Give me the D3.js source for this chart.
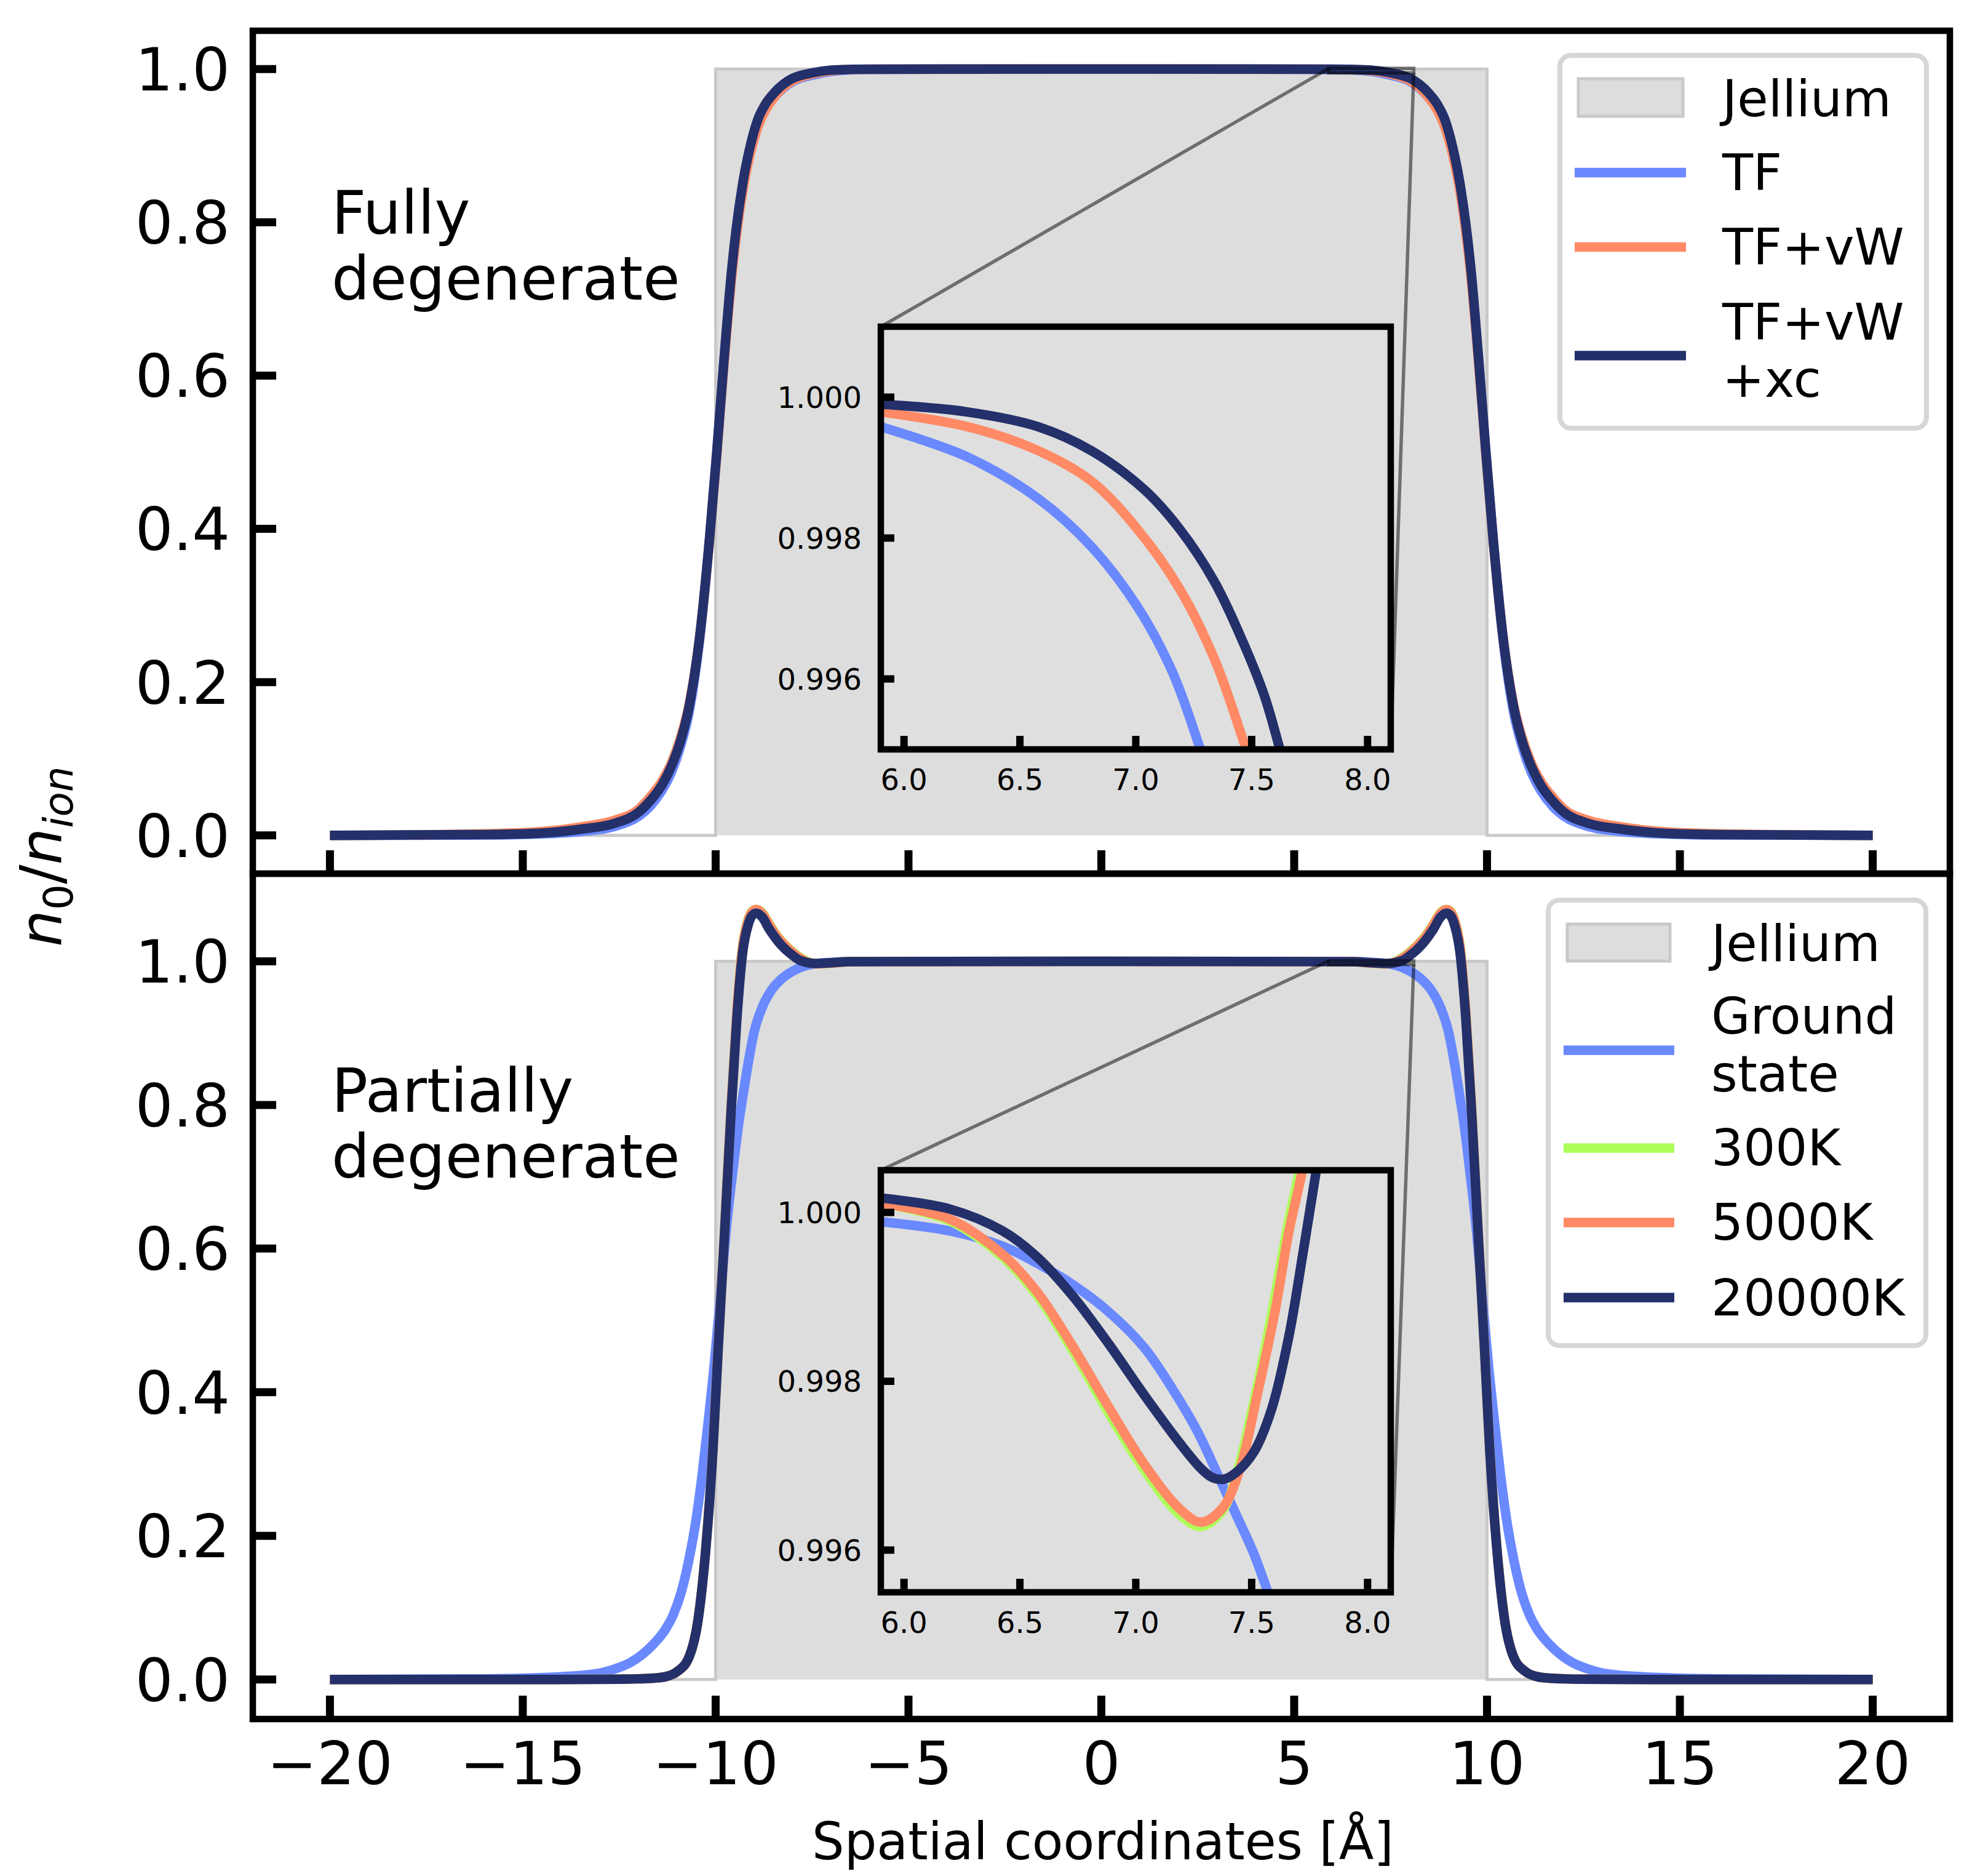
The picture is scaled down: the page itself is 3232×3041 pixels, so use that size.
<!DOCTYPE html>
<html><head><meta charset="utf-8">
<script src="https://cdn.jsdelivr.net/npm/d3@7"></script>
<style>html,body{margin:0;padding:0;background:#fff;} svg{display:block;} text{font-family:"DejaVu Sans",sans-serif;fill:#000;}</style>
</head><body><div id="chart"></div>
<script>
// ---------------- data ----------------
const xTicksMain = [-20, -15, -10, -5, 0, 5, 10, 15, 20];
const yTicksMain = [0, 0.2, 0.4, 0.6, 0.8, 1.0];
const xTicksInset = [6.0, 6.5, 7.0, 7.5, 8.0];
const yTicksInset = [0.996, 0.998, 1.000];

const jelliumX = [-20, -10, -10, 10, 10, 20];
const jelliumY = [0, 0, 1, 1, 0, 0];

// top panel (fully degenerate)
const topX = [-20,-16,-14.5,-13.5,-12.6,-12.0,-11.7,-11.4,-11.15,-10.9,-10.7,-10.4,-10.15,-9.97,-9.8,-9.58,-9.3,-9.1,-8.9,-8.7,-8.5,-8.25,-8.0,-7.5,-7.0,-6.5,-6.0,0,
              6.0,6.5,7.0,7.5,8.0,8.25,8.5,8.7,8.9,9.1,9.3,9.58,9.8,9.97,10.15,10.4,10.7,10.9,11.15,11.4,11.7,12.0,12.6,13.5,14.5,16,20];
const topTFvWxc = [0,0.001,0.003,0.008,0.016,0.03,0.045,0.065,0.09,0.125,0.165,0.265,0.392,0.5,0.61,0.74,0.85,0.9,0.935,0.955,0.968,0.98,0.988,0.995,0.9987,0.9996,0.9999,1,
                   0.9999,0.9996,0.9987,0.995,0.988,0.98,0.968,0.955,0.935,0.9,0.85,0.74,0.61,0.5,0.392,0.265,0.165,0.125,0.09,0.065,0.045,0.03,0.016,0.008,0.003,0.001,0];
const topTFvW = [0,0.002,0.005,0.011,0.02,0.034,0.05,0.07,0.094,0.129,0.168,0.265,0.39,0.497,0.605,0.73,0.84,0.89,0.925,0.947,0.962,0.976,0.985,0.9935,0.998,0.9994,0.9998,1,
                 0.9998,0.9994,0.998,0.9935,0.985,0.976,0.962,0.947,0.925,0.89,0.84,0.73,0.605,0.497,0.39,0.265,0.168,0.129,0.094,0.07,0.05,0.034,0.02,0.011,0.005,0.002,0];
const topTF = [0,0.0005,0.002,0.005,0.012,0.025,0.038,0.058,0.082,0.118,0.158,0.262,0.392,0.5,0.608,0.735,0.843,0.893,0.927,0.948,0.962,0.975,0.984,0.992,0.997,0.9991,0.9996,1,
               0.9996,0.9991,0.997,0.992,0.984,0.975,0.962,0.948,0.927,0.893,0.843,0.735,0.608,0.5,0.392,0.262,0.158,0.118,0.082,0.058,0.038,0.025,0.012,0.005,0.002,0.0005,0];

// bottom panel (partially degenerate)
const groundX = [-20,-16,-14,-13,-12.6,-12.2,-11.9,-11.6,-11.3,-11.1,-10.9,-10.7,-10.5,-10.35,-10.2,-10.05,-9.85,-9.7,-9.55,-9.4,-9.3,-9.15,-9.0,-8.8,-8.55,-8.3,-7.9,-7.5,-7.0,-6.5,0,
                 6.5,7.0,7.5,7.9,8.3,8.55,8.8,9.0,9.15,9.3,9.4,9.55,9.7,9.85,10.05,10.2,10.35,10.5,10.7,10.9,11.1,11.3,11.6,11.9,12.2,12.6,13,14,16,20];
const groundY = [0,0.001,0.004,0.009,0.015,0.024,0.035,0.05,0.07,0.09,0.12,0.165,0.225,0.285,0.355,0.43,0.55,0.64,0.71,0.775,0.81,0.86,0.902,0.935,0.96,0.975,0.989,0.996,0.9985,0.9995,1,
                 0.9995,0.9985,0.996,0.989,0.975,0.96,0.935,0.902,0.86,0.81,0.775,0.71,0.64,0.55,0.43,0.355,0.285,0.225,0.165,0.12,0.09,0.07,0.05,0.035,0.024,0.015,0.009,0.004,0.001,0];
const tempX = [-20,-16,-12.5,-12,-11.6,-11.3,-11.0,-10.7,-10.45,-10.25,-10.07,-9.93,-9.78,-9.6,-9.45,-9.3,-9.15,-9.05,-8.95,-8.8,-8.6,-8.4,-8.2,-8.0,-7.8,-7.4,-7.0,-6.5,0,
               6.5,7.0,7.4,7.8,8.0,8.2,8.4,8.6,8.8,8.95,9.05,9.15,9.3,9.45,9.6,9.78,9.93,10.07,10.25,10.45,10.7,11.0,11.3,11.6,12,12.5,16,20];
const t20000K = [0,0,0.0005,0.001,0.002,0.004,0.011,0.03,0.085,0.185,0.32,0.465,0.61,0.79,0.92,1.012,1.052,1.064,1.067,1.062,1.044,1.029,1.017,1.008,1.001,0.9969,0.998,0.9995,1,
                 0.9995,0.998,0.9969,1.001,1.008,1.017,1.029,1.044,1.062,1.067,1.064,1.052,1.012,0.92,0.79,0.61,0.465,0.32,0.185,0.085,0.03,0.011,0.004,0.002,0.001,0.0005,0,0];
const t5000K  = [0,0,0.0005,0.001,0.002,0.004,0.011,0.03,0.086,0.186,0.322,0.467,0.613,0.795,0.928,1.02,1.058,1.069,1.072,1.067,1.05,1.034,1.022,1.012,1.004,0.9966,0.9975,0.9995,1,
                 0.9995,0.9975,0.9966,1.004,1.012,1.022,1.034,1.05,1.067,1.072,1.069,1.058,1.02,0.928,0.795,0.613,0.467,0.322,0.186,0.086,0.03,0.011,0.004,0.002,0.001,0.0005,0,0];
const t300K   = [0,0,0.0005,0.001,0.002,0.004,0.011,0.03,0.086,0.186,0.322,0.467,0.613,0.795,0.929,1.021,1.059,1.07,1.072,1.068,1.051,1.035,1.023,1.013,1.005,0.9965,0.9973,0.9995,1,
                 0.9995,0.9973,0.9965,1.005,1.013,1.023,1.035,1.051,1.068,1.072,1.07,1.059,1.021,0.929,0.795,0.613,0.467,0.322,0.186,0.086,0.03,0.011,0.004,0.002,0.001,0.0005,0,0];

// insets (zoomed values)
const insTopTFX     = [5.9,6.274,6.579,6.808,7.006,7.158,7.28,7.35];
const insTopTFY     = [0.99958,0.99915,0.99856,0.99788,0.99703,0.9961,0.99499,0.9943];
const insTopTFvWX   = [5.9,6.274,6.579,6.808,7.006,7.189,7.341,7.478,7.55];
const insTopTFvWY   = [0.99979,0.99958,0.99924,0.99881,0.99813,0.99728,0.99627,0.99499,0.99432];
const insTopXcX     = [5.9,6.274,6.579,6.808,7.036,7.189,7.341,7.463,7.555,7.623,7.7];
const insTopXcY     = [0.9999,0.99979,0.99958,0.99924,0.99869,0.99813,0.99737,0.99652,0.99576,0.99499,0.99412];

const insBotGroundX = [5.9,6.198,6.426,6.579,6.731,6.884,7.036,7.158,7.265,7.356,7.433,7.509,7.57,7.62];
const insBotGroundY = [0.99989,0.99978,0.9996,0.99939,0.99914,0.99882,0.9984,0.99791,0.99741,0.99688,0.99642,0.99596,0.9955,0.9951];
const insBot300X    = [5.9,6.198,6.426,6.579,6.731,6.884,7.036,7.189,7.28,7.372,7.44,7.516,7.588,7.651,7.702,7.75];
const insBot300Y    = [1.00011,0.9999,0.99947,0.999,0.99835,0.99762,0.99695,0.99642,0.99628,0.99646,0.99695,0.99784,0.99882,0.99978,1.00045,1.0012];
const insBot5000X   = [5.9,6.198,6.426,6.579,6.731,6.884,7.036,7.189,7.28,7.372,7.448,7.524,7.6,7.661,7.715,7.76];
const insBot5000Y   = [1.00011,0.99992,0.9995,0.99904,0.9984,0.99769,0.99702,0.99649,0.99633,0.99649,0.99695,0.99784,0.99882,0.99978,1.00045,1.0012];
const insBot20000X  = [5.9,6.198,6.426,6.579,6.731,6.884,7.036,7.189,7.28,7.33,7.38,7.433,7.509,7.585,7.661,7.722,7.776,7.82];
const insBot20000Y  = [1.00017,1.00004,0.99978,0.99946,0.999,0.99844,0.99784,0.99727,0.99697,0.99686,0.99684,0.99692,0.99716,0.99766,0.99854,0.99953,1.00045,1.0012];

// ---------------- styles ----------------
const C = {blue:"#6a89ff", orange:"#ff8a65", navy:"#24306a", green:"#aeff5a", jel:"#dddddd", jelEdge:"#c9c9c9"};
const LW = 15.5;
const FS_TICK = 97, FS_LABEL = 98, FS_LEG = 82, FS_AXIS = 83, FS_INS = 48;

const W = 3232, H = 3041;
const svg = d3.select("#chart").append("svg").attr("width", W).attr("height", H);
svg.append("rect").attr("width", W).attr("height", H).attr("fill", "#fff");

const L = 411, R = 3170;
const x = d3.scaleLinear().domain([-22, 22]).range([L, R]);

const panels = [
  {top: 50, bottom: 1420, ydom: [-0.05, 1.05],
   series: [[topX, topTF, C.blue], [topX, topTFvW, C.orange], [topX, topTFvWxc, C.navy]],
   inset: {top: 531, bottom: 1218, ydom: [0.995, 1.001],
     series: [[insTopTFX, insTopTFY, C.blue], [insTopTFvWX, insTopTFvWY, C.orange], [insTopXcX, insTopXcY, C.navy]]},
   label: ["Fully", "degenerate"], labelY: 380,
   legend: {x: 2536, y: 90, w: 596, h: 606, patch: [2566, 128, 170, 61], tx: 2800, lx: [2560, 2741],
     entries: [{lines: ["Jellium"], base: [189]},
               {lines: ["TF"], base: [309], ly: 280.5, c: C.blue},
               {lines: ["TF+vW"], base: [430], ly: 401.5, c: C.orange},
               {lines: ["TF+vW", "+xc"], base: [552, 645], ly: 578, c: C.navy}]}},
  {top: 1420, bottom: 2794, ydom: [-0.055, 1.122],
   series: [[groundX, groundY, C.blue], [tempX, t300K, C.green], [tempX, t5000K, C.orange], [tempX, t20000K, C.navy]],
   inset: {top: 1902, bottom: 2588, ydom: [0.9955, 1.0005],
     series: [[insBotGroundX, insBotGroundY, C.blue], [insBot300X, insBot300Y, C.green], [insBot5000X, insBot5000Y, C.orange], [insBot20000X, insBot20000Y, C.navy]]},
   label: ["Partially", "degenerate"], labelY: 1807,
   legend: {x: 2517, y: 1463, w: 614, h: 724, patch: [2548, 1502, 167, 60], tx: 2782, lx: [2542, 2722],
     entries: [{lines: ["Jellium"], base: [1562]},
               {lines: ["Ground", "state"], base: [1680, 1774], ly: 1707, c: C.blue},
               {lines: ["300K"], base: [1894], ly: 1866, c: C.green},
               {lines: ["5000K"], base: [2015], ly: 1987, c: C.orange},
               {lines: ["20000K"], base: [2138], ly: 2109, c: C.navy}]}}
];

const TICK_W = 13, TICK_L = 38, SPINE = 10.5;
const INS_L = 1432, INS_R = 2261;
const xi = d3.scaleLinear().domain([5.9, 8.1]).range([INS_L, INS_R]);

panels.forEach((p, pi) => {
  const y = d3.scaleLinear().domain(p.ydom).range([p.bottom, p.top]);
  const g = svg.append("g");
  const clipId = "clip" + pi;
  svg.append("defs").append("clipPath").attr("id", clipId)
    .append("rect").attr("x", L).attr("y", p.top).attr("width", R - L).attr("height", p.bottom - p.top);
  const plot = g.append("g").attr("clip-path", `url(#${clipId})`);

  // jellium
  plot.append("path")
    .attr("d", d3.line().x(d => x(d[0])).y(d => y(d[1]))(d3.zip(jelliumX, jelliumY)))
    .attr("fill", C.jel).attr("stroke", C.jelEdge).attr("stroke-width", 5).attr("stroke-linejoin", "miter");

  // curves
  const line = d3.line().x(d => x(d[0])).y(d => y(d[1])).curve(d3.curveMonotoneX);
  p.series.forEach(([xs, ys, c]) => {
    plot.append("path").attr("d", line(d3.zip(xs, ys))).attr("fill", "none")
      .attr("stroke", c).attr("stroke-width", LW).attr("stroke-linejoin", "round");
  });

  // indicate zoom rect + connectors
  const ins = p.inset;
  const ind = g.append("g").attr("stroke", "#000").attr("stroke-opacity", 0.5).attr("stroke-width", 5.5).attr("fill", "none");
  ind.append("rect").attr("x", x(5.9)).attr("y", y(ins.ydom[1])).attr("width", x(8.1) - x(5.9))
    .attr("height", y(ins.ydom[0]) - y(ins.ydom[1]));
  ind.append("line").attr("x1", x(5.9)).attr("y1", y(ins.ydom[1])).attr("x2", INS_L).attr("y2", ins.top);
  ind.append("line").attr("x1", x(8.1)).attr("y1", y(ins.ydom[0])).attr("x2", INS_R).attr("y2", ins.bottom);

  // spines (main)
  g.append("rect").attr("x", L).attr("y", p.top).attr("width", R - L).attr("height", p.bottom - p.top)
    .attr("fill", "none").attr("stroke", "#000").attr("stroke-width", SPINE);

  // ticks main
  xTicksMain.forEach(t => {
    g.append("line").attr("x1", x(t)).attr("x2", x(t)).attr("y1", p.bottom).attr("y2", p.bottom - TICK_L)
      .attr("stroke", "#000").attr("stroke-width", TICK_W);
  });
  yTicksMain.forEach(t => {
    g.append("line").attr("x1", L).attr("x2", L + TICK_L).attr("y1", y(t)).attr("y2", y(t))
      .attr("stroke", "#000").attr("stroke-width", TICK_W);
    g.append("text").attr("x", 374).attr("y", y(t) + 0.36 * FS_TICK).attr("text-anchor", "end")
      .style("font-size", FS_TICK + "px").text(d3.format(".1f")(t));
  });
  if (pi === 1) {
    xTicksMain.forEach(t => {
      g.append("text").attr("x", x(t)).attr("y", 2900).attr("text-anchor", "middle")
        .style("font-size", FS_TICK + "px").text(d3.format("d")(t));
    });
  }

  // panel label
  p.label.forEach((s, i) => {
    g.append("text").attr("x", 539).attr("y", p.labelY + i * 107).style("font-size", FS_LABEL + "px").text(s);
  });

  // inset
  const yi = d3.scaleLinear().domain(ins.ydom).range([ins.bottom, ins.top]);
  const icid = "iclip" + pi;
  svg.append("defs").append("clipPath").attr("id", icid)
    .append("rect").attr("x", INS_L).attr("y", ins.top).attr("width", INS_R - INS_L).attr("height", ins.bottom - ins.top);
  const ig = g.append("g");
  ig.append("rect").attr("x", INS_L).attr("y", ins.top).attr("width", INS_R - INS_L).attr("height", ins.bottom - ins.top)
    .attr("fill", "#dfdfdf");
  const iplot = ig.append("g").attr("clip-path", `url(#${icid})`);
  const iline = d3.line().x(d => xi(d[0])).y(d => yi(d[1])).curve(d3.curveCatmullRom.alpha(0.5));
  ins.series.forEach(([xs, ys, c]) => {
    iplot.append("path").attr("d", iline(d3.zip(xs, ys))).attr("fill", "none")
      .attr("stroke", c).attr("stroke-width", LW).attr("stroke-linejoin", "round");
  });
  ig.append("rect").attr("x", INS_L).attr("y", ins.top).attr("width", INS_R - INS_L).attr("height", ins.bottom - ins.top)
    .attr("fill", "none").attr("stroke", "#000").attr("stroke-width", SPINE);
  xTicksInset.forEach(t => {
    ig.append("line").attr("x1", xi(t)).attr("x2", xi(t)).attr("y1", ins.bottom).attr("y2", ins.bottom - 22)
      .attr("stroke", "#000").attr("stroke-width", 12);
    ig.append("text").attr("x", xi(t)).attr("y", ins.bottom + 31 + 35).attr("text-anchor", "middle")
      .style("font-size", FS_INS + "px").text(d3.format(".1f")(t));
  });
  yTicksInset.forEach(t => {
    ig.append("line").attr("x1", INS_L).attr("x2", INS_L + 22).attr("y1", yi(t)).attr("y2", yi(t))
      .attr("stroke", "#000").attr("stroke-width", 12);
    ig.append("text").attr("x", 1401).attr("y", yi(t) + 0.36 * FS_INS).attr("text-anchor", "end")
      .style("font-size", FS_INS + "px").text(d3.format(".3f")(t));
  });

  // legend
  const lg = p.legend;
  const leg = g.append("g");
  leg.append("rect").attr("x", lg.x).attr("y", lg.y).attr("width", lg.w).attr("height", lg.h).attr("rx", 18)
    .attr("fill", "#fff").attr("fill-opacity", 0.85).attr("stroke", "#d6d6d6").attr("stroke-width", 8);
  leg.append("rect").attr("x", lg.patch[0]).attr("y", lg.patch[1]).attr("width", lg.patch[2]).attr("height", lg.patch[3])
    .attr("fill", C.jel).attr("stroke", C.jelEdge).attr("stroke-width", 5);
  lg.entries.forEach(e => {
    if (e.c) leg.append("line").attr("x1", lg.lx[0]).attr("x2", lg.lx[1]).attr("y1", e.ly).attr("y2", e.ly)
      .attr("stroke", e.c).attr("stroke-width", LW);
    e.lines.forEach((s, i) => {
      leg.append("text").attr("x", lg.tx).attr("y", e.base[i]).style("font-size", FS_LEG + "px").text(s);
    });
  });
});

// axis labels
svg.append("text").attr("x", 1793).attr("y", 3022).attr("text-anchor", "middle")
  .style("font-size", FS_AXIS + "px").text("Spatial coordinates [Å]");
const yl = svg.append("text").attr("transform", "translate(100,1392) rotate(-90)").attr("text-anchor", "middle")
  .style("font-size", "94px");
yl.append("tspan").attr("font-style", "italic").text("n");
yl.append("tspan").attr("dy", 18).style("font-size", "66px").text("0");
yl.append("tspan").attr("dy", -18).text("/");
yl.append("tspan").attr("font-style", "italic").text("n");
yl.append("tspan").attr("dy", 18).attr("font-style", "italic").style("font-size", "66px").text("ion");
</script></body></html>
